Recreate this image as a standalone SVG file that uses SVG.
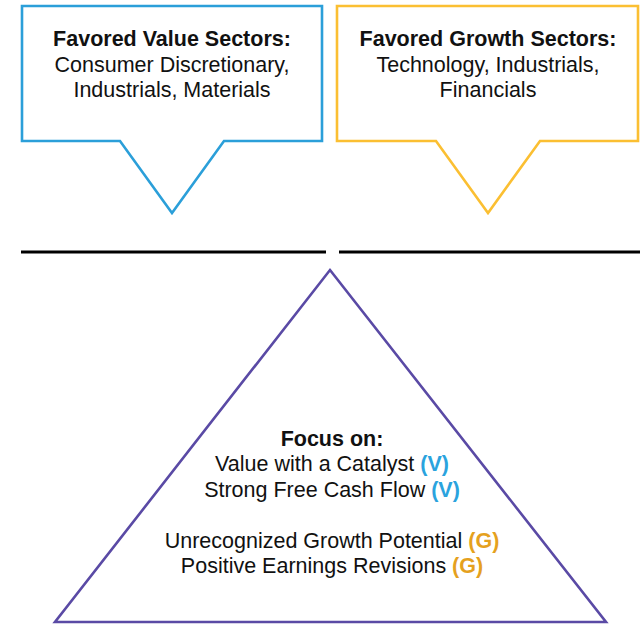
<svg xmlns="http://www.w3.org/2000/svg" width="642" height="625" viewBox="0 0 642 625">
<style>
text{font-family:"Liberation Sans",Arial,sans-serif;font-size:21.5px;fill:#111;text-anchor:middle}
.b{font-weight:bold}
.v{fill:#2AA3DE;font-weight:bold}
.g{fill:#E5A11E;font-weight:bold}
.shape{fill:#fff;stroke-width:2.6;stroke-linejoin:miter}
</style>
<rect width="642" height="625" fill="#fff"/>
<g id="value-callout">
<path class="shape" stroke="#2B9FD9" d="M22,6 H322 V141 H224 L172,213 L120,141 H22 Z"/>
<text x="172" y="46" class="b">Favored Value Sectors:</text>
<text x="172" y="72">Consumer Discretionary,</text>
<text x="172" y="97">Industrials, Materials</text>
</g>
<g id="growth-callout">
<path class="shape" stroke="#FBBF32" d="M337,6 H638 V141 H540 L488,213 L436,141 H337 Z"/>
<text x="488" y="46" class="b">Favored Growth Sectors:</text>
<text x="488" y="72">Technology, Industrials,</text>
<text x="488" y="97">Financials</text>
</g>
<g id="connectors">
<line x1="21" y1="252" x2="326" y2="252" stroke="#000" stroke-width="3"/>
<line x1="339" y1="252" x2="640" y2="252" stroke="#000" stroke-width="3"/>
</g>
<g id="focus-triangle">
<path class="shape" stroke="#5A4AA5" d="M330,270 L606,622 H55 Z"/>
<text x="332" y="446" class="b">Focus on:</text>
<text x="332" y="471">Value with a Catalyst <tspan class="v">(V)</tspan></text>
<text x="332" y="497">Strong Free Cash Flow <tspan class="v">(V)</tspan></text>
<text x="332" y="548">Unrecognized Growth Potential <tspan class="g">(G)</tspan></text>
<text x="332" y="573">Positive Earnings Revisions <tspan class="g">(G)</tspan></text>
</g>
</svg>
